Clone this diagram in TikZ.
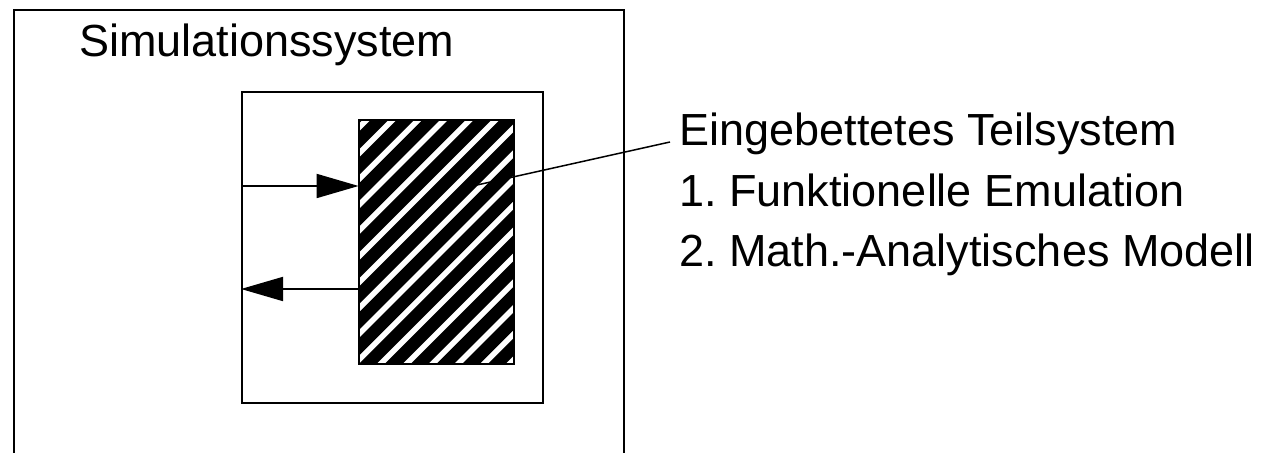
\documentclass[tikz,border=0pt]{standalone}
\usepackage{fontspec}
\setmainfont{Liberation Sans}
\usetikzlibrary{arrows.meta}
\frenchspacing
\begin{document}
\begin{tikzpicture}[x=0.5pt,y=-0.5pt,
  box/.style={draw=black, line width=1pt, inner sep=0pt},
  lbl/.style={inner sep=0pt, anchor=base west, font=\fontsize{22.5pt}{27pt}\selectfont},
  arr/.style={line width=0.9pt, -{Triangle[length=21pt,width=12pt]}},
  leader/.style={line width=0.75pt}]
\useasboundingbox (0,0) rectangle (1261,453);
% outer system box (open at the bottom of the picture)
\node[box, minimum width=305pt, minimum height=240pt] (sim) at (319,250) {};
\node[lbl] (simlbl) at (79,57) {Simulationssystem};
% inner box
\node[box, minimum width=150.5pt, minimum height=155.5pt] (host) at (392.5,247.5) {};
% embedded (hatched) subsystem
\node[inner sep=0pt, minimum width=77.5pt, minimum height=122pt] (sub) at (436.5,242) {};
\begin{scope}
  \clip (sub.south west) rectangle (sub.north east);
  \foreach \k in {-2,...,17} {
    \pgfmathsetmacro{\c}{499.5+25.8*\k}
    \draw[line width=6.2pt] (\c-400,400) -- (\c-100,100);
  }
\end{scope}
\node[box, minimum width=77.5pt, minimum height=122pt] at (sub.center) {};
% arrows
\draw[arr] (host.west |- 300,186) -- (sub.west |- 300,186);
\draw[arr] (sub.west |- 300,289) -- (host.west |- 300,289);
% labels on the right
\node[lbl] (l1) at (679,146) {Eingebettetes Teilsystem};
\node[lbl] (l2) at (679,206.5) {1. Funktionelle Emulation};
\node[lbl] (l3) at (679,267) {2. Math.-Analytisches Modell};
\coordinate (leadstart) at (477,185);
\coordinate (leadend) at (670,142);
\draw[leader] (leadstart) -- (leadend);
\end{tikzpicture}
\end{document}
